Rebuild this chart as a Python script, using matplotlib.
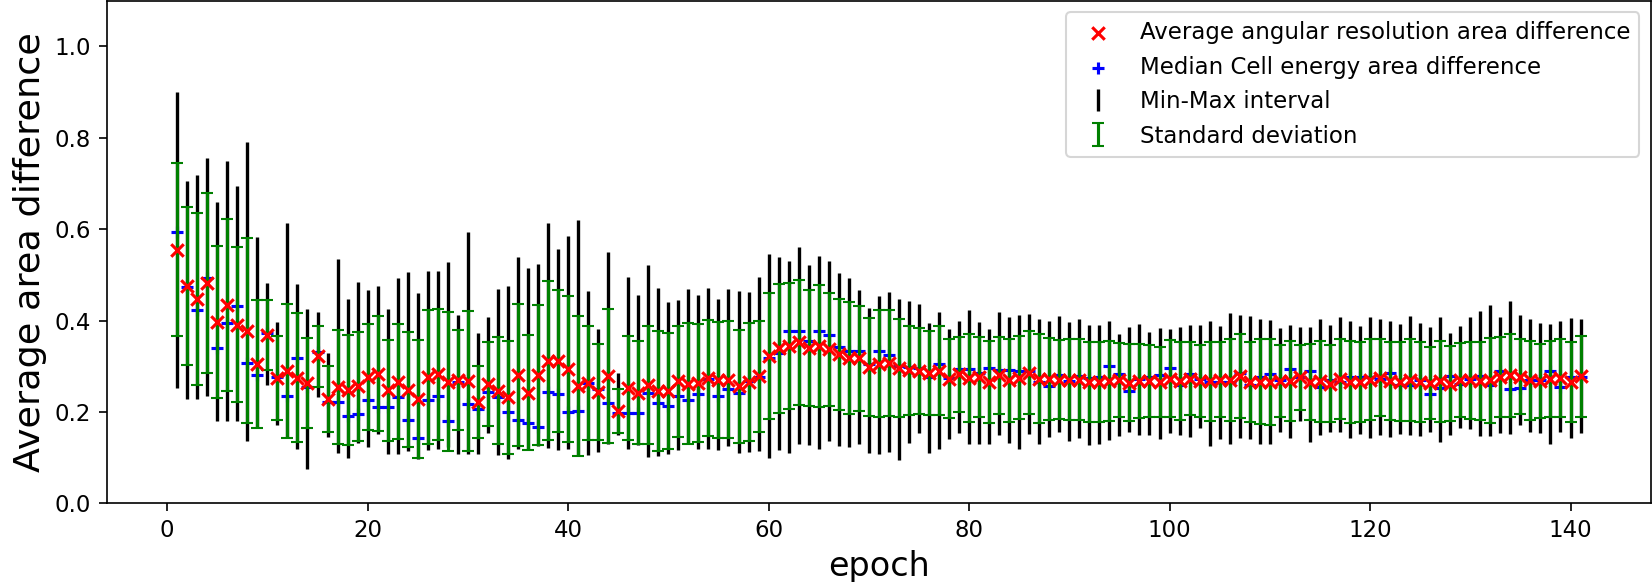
import numpy as np
import matplotlib
matplotlib.use("Agg")
import matplotlib.pyplot as plt

epochs = np.arange(1, 142)

mean_vals = [
    .555, .476, .448, .483, .397, .434, .391, .378, .304, .368,
    .274, .290, .275, .263, .322, .228, .254, .248, .256, .277,
    .284, .247, .266, .249, .229, .277, .282, .266, .270, .267,
    .221, .261, .246, .232, .281, .242, .281, .312, .311, .294,
    .256, .263, .243, .279, .202, .252, .242, .259, .246, .245,
    .267, .262, .264, .275, .269, .270, .256, .265, .278, .322,
    .339, .345, .352, .340, .344, .337, .326, .318, .317, .298,
    .306, .307, .296, .291, .289, .286, .290, .273, .282, .274,
    .276, .265, .280, .269, .275, .286, .273, .272, .271, .271,
    .271, .266, .266, .268, .270, .264, .268, .268, .266, .273,
    .268, .273, .268, .267, .271, .270, .279, .265, .266, .265,
    .268, .268, .276, .265, .267, .262, .272, .265, .266, .271,
    .275, .267, .266, .270, .266, .264, .267, .262, .270, .269,
    .268, .269, .277, .280, .277, .269, .268, .273, .275, .266, .278,
]

std_vals = [
    .189, .173, .188, .197, .166, .189, .169, .203, .140, .077,
    .092, .147, .141, .098, .067, .072, .125, .121, .119, .116,
    .125, .111, .126, .125, .129, .146, .143, .152, .110, .153,
    .079, .092, .117, .123, .156, .126, .153, .174, .155, .160,
    .153, .125, .105, .146, .048, .114, .113, .129, .131, .127,
    .122, .132, .129, .127, .127, .128, .124, .129, .122, .138,
    .141, .138, .136, .127, .133, .123, .121, .122, .115, .107,
    .117, .116, .108, .098, .094, .092, .097, .087, .082, .097,
    .088, .090, .085, .091, .091, .090, .097, .090, .086, .088,
    .089, .088, .088, .088, .081, .084, .081, .079, .077, .084,
    .086, .080, .079, .087, .083, .089, .092, .087, .093, .094,
    .079, .087, .071, .083, .089, .084, .087, .090, .088, .089,
    .084, .085, .086, .089, .088, .079, .089, .082, .080, .084,
    .086, .093, .087, .090, .082, .087, .081, .083, .085, .088, .088,
]

median_vals = [
    .593, .474, .422, .493, .340, .394, .431, .308, .280, .373,
    .276, .234, .319, .255, .331, .222, .222, .191, .195, .227,
    .211, .211, .233, .183, .144, .227, .234, .180, .266, .218,
    .206, .244, .233, .200, .182, .175, .167, .244, .240, .200,
    .202, .264, .251, .220, .198, .198, .198, .242, .220, .213,
    .236, .226, .240, .273, .236, .251, .241, .267, .276, .318,
    .329, .378, .376, .356, .377, .369, .342, .333, .333, .304,
    .333, .324, .300, .298, .297, .276, .304, .275, .293, .293,
    .286, .297, .291, .292, .290, .290, .265, .256, .280, .268,
    .278, .275, .276, .300, .282, .246, .273, .276, .280, .297,
    .260, .284, .273, .265, .265, .265, .286, .260, .276, .284,
    .269, .295, .276, .289, .255, .271, .265, .276, .276, .276,
    .273, .286, .260, .260, .269, .240, .253, .278, .262, .273,
    .278, .258, .289, .251, .253, .269, .269, .290, .255, .276, .276,
]

min_vals = [
    .253, .228, .228, .236, .180, .180, .180, .136, .164, .260,
    .172, .142, .120, .075, .233, .145, .111, .100, .132, .124,
    .151, .109, .109, .115, .098, .116, .120, .124, .109, .109,
    .107, .154, .106, .098, .120, .116, .125, .122, .116, .118,
    .103, .106, .113, .131, .149, .120, .127, .102, .103, .108,
    .116, .130, .118, .120, .116, .125, .111, .113, .115, .100,
    .116, .111, .131, .127, .119, .136, .125, .124, .129, .111,
    .108, .113, .096, .133, .153, .111, .120, .140, .153, .131,
    .131, .129, .149, .133, .120, .151, .129, .145, .156, .136,
    .143, .128, .131, .138, .147, .156, .149, .149, .140, .154,
    .149, .145, .164, .126, .140, .131, .144, .140, .131, .129,
    .156, .144, .181, .135, .149, .156, .156, .144, .151, .144,
    .149, .145, .151, .149, .147, .156, .135, .149, .166, .162,
    .147, .147, .153, .151, .171, .156, .154, .131, .156, .144, .153,
]

max_vals = [
    .900, .705, .719, .756, .660, .749, .695, .791, .583, .483,
    .397, .613, .480, .426, .419, .330, .535, .448, .485, .467,
    .476, .425, .492, .507, .460, .508, .508, .528, .413, .593,
    .373, .407, .469, .475, .540, .515, .524, .613, .556, .584,
    .620, .465, .382, .549, .285, .495, .455, .522, .471, .441,
    .445, .468, .456, .471, .446, .469, .465, .463, .495, .546,
    .540, .530, .560, .522, .542, .531, .503, .493, .466, .428,
    .454, .462, .447, .442, .436, .395, .418, .382, .400, .424,
    .397, .382, .418, .407, .411, .415, .404, .398, .409, .396,
    .404, .391, .391, .400, .371, .386, .393, .375, .384, .382,
    .386, .391, .391, .399, .388, .417, .412, .409, .404, .402,
    .384, .391, .386, .386, .404, .391, .407, .399, .388, .407,
    .404, .399, .393, .409, .394, .385, .407, .373, .388, .407,
    .420, .433, .407, .442, .412, .404, .394, .393, .400, .406, .404,
]

mean_arr = np.array(mean_vals)
lower = mean_arr - np.array(min_vals)
upper = np.array(max_vals) - mean_arr

fig = plt.figure(figsize=(1652 / 150, 582 / 150), dpi=150)
ax = fig.add_axes([107 / 1652, 78.6 / 582, 1543.7 / 1652, 502.9 / 582])

minmax = ax.errorbar(epochs, mean_arr, yerr=[lower, upper], fmt='none',
                     ecolor='black', elinewidth=1.6, zorder=1,
                     label='Min-Max interval')
med = ax.scatter(epochs, median_vals, marker='+', color='blue', zorder=2,
                 label='Median Cell energy area difference')
sd = ax.errorbar(epochs, mean_arr, yerr=std_vals, fmt='none', ecolor='green',
                 elinewidth=1.5, capsize=3, zorder=3,
                 label='Standard deviation')
avg = ax.scatter(epochs, mean_arr, marker='x', color='red', zorder=4,
                 label='Average angular resolution area difference')

ax.set_ylim(0, 1.1)
ax.set_xlim(-6, 148)
ax.tick_params(labelsize=11, length=4)
ax.set_xlabel('epoch', fontsize=16)
ax.set_ylabel('Average area difference', fontsize=17.5)
ax.legend(handles=[avg, med, minmax, sd], loc='upper right', fontsize=11)

fig.savefig('out.png', dpi=150)
